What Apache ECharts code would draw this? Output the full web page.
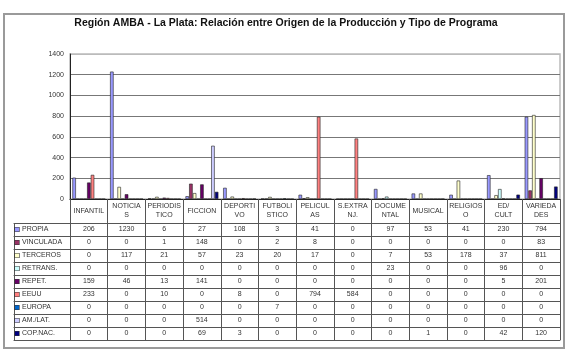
<!DOCTYPE html>
<html>
<head>
<meta charset="utf-8">
<script src="https://cdn.jsdelivr.net/npm/echarts@6/dist/echarts.min.js"></script>
<style>
  html, body { margin: 0; padding: 0; background: #fff; }
  #frame { position: absolute; left: 3px; top: 13px; width: 558px; height: 332px; border: 2px solid #9a9a9a; }
  #chart { position: absolute; left: 0; top: 0; width: 572px; height: 351px; }
</style>
</head>
<body>
<div id="frame"></div>
<div id="chart"></div>
<script>
// categorias (encabezado de la tabla, ya cortadas como en el original)
const categories = ['INFANTIL', 'NOTICIA\nS', 'PERIODIS\nTICO', 'FICCION', 'DEPORTI\nVO', 'FUTBOLI\nSTICO',
  'PELICUL\nAS', 'S.EXTRA\nNJ.', 'DOCUME\nNTAL', 'MUSICAL', 'RELIGIOS\nO', 'ED/\nCULT', 'VARIEDA\nDES'];

const seriesNames = ['PROPIA', 'VINCULADA', 'TERCEROS', 'RETRANS.', 'REPET.', 'EEUU', 'EUROPA', 'AM./LAT.', 'COP.NAC.'];
const colors = ['#9999FF', '#993366', '#FFFFCC', '#CCFFFF', '#660066', '#FF8080', '#0066CC', '#CCCCFF', '#000080'];

const propia    = [206, 1230, 6, 27, 108, 3, 41, 0, 97, 53, 41, 230, 794];
const vinculada = [0, 0, 1, 148, 0, 2, 8, 0, 0, 0, 0, 0, 83];
const terceros  = [0, 117, 21, 57, 23, 20, 17, 0, 7, 53, 178, 37, 811];
const retrans   = [0, 0, 0, 0, 0, 0, 0, 0, 23, 0, 0, 96, 0];
const repet     = [159, 46, 13, 141, 0, 0, 0, 0, 0, 0, 0, 5, 201];
const eeuu      = [233, 0, 10, 0, 8, 0, 794, 584, 0, 0, 0, 0, 0];
const europa    = [0, 0, 0, 0, 0, 7, 0, 0, 0, 0, 0, 0, 0];
const amlat     = [0, 0, 0, 514, 0, 0, 0, 0, 0, 0, 0, 0, 0];
const copnac    = [0, 0, 0, 69, 3, 0, 0, 0, 0, 1, 0, 42, 120];

const rows = [propia, vinculada, terceros, retrans, repet, eeuu, europa, amlat, copnac];

const yMax = 1400;
const yStep = 200;

const font = 'Arial, "Liberation Sans", sans-serif';
const HEADER = 24; // alto fila encabezado
const ROW = 13;    // alto de cada fila de la tabla
const lineCol = '#555';

let myChart = echarts.init(document.getElementById('chart'), null, { renderer: 'canvas' });

// eje principal + una fila de la tabla por serie
let xAxes = [{
  type: 'category', gridIndex: 0, position: 'bottom', data: categories,
  axisLine: { lineStyle: { color: '#222' } },
  axisTick: { show: true, interval: 0, length: HEADER, lineStyle: { color: lineCol } },
  axisLabel: { interval: 0, margin: 12, verticalAlign: 'middle', fontSize: 7, lineHeight: 9, color: '#333', fontFamily: font },
}];
rows.forEach((vals, i) => {
  xAxes.push({
    type: 'category', gridIndex: 0, position: 'bottom', offset: HEADER + i * ROW, data: categories,
    axisLine: { show: true, lineStyle: { color: lineCol } },
    axisTick: { show: true, interval: 0, length: ROW, lineStyle: { color: lineCol } },
    axisLabel: { interval: 0, margin: 6.5, verticalAlign: 'middle', fontSize: 7, color: '#333', fontFamily: font,
      formatter: (v, idx) => String(vals[idx]) },
  });
});
// linea inferior de la tabla
xAxes.push({
  type: 'category', gridIndex: 0, position: 'bottom', offset: HEADER + rows.length * ROW, data: categories,
  axisLine: { show: true, lineStyle: { color: lineCol } }, axisTick: { show: false }, axisLabel: { show: false },
});

// columna izquierda con las claves de la leyenda
xAxes.push({ type: 'category', gridIndex: 1, data: [''], show: false });
seriesNames.forEach((name, i) => {
  xAxes.push({
    type: 'category', gridIndex: 1, position: 'bottom', offset: HEADER + i * ROW, data: [''],
    axisLine: { show: true, lineStyle: { color: lineCol } },
    axisTick: { show: true, length: ROW, lineStyle: { color: lineCol } },
    axisLabel: {
      margin: 6.5, verticalAlign: 'middle', align: 'center', width: 54, fontSize: 7, color: '#333', fontFamily: font,
      formatter: () => '{k|}{n|' + name + '}',
      rich: {
        k: { width: 4, height: 4, align: 'left', backgroundColor: colors[i], borderColor: '#333', borderWidth: 0.6 },
        n: { align: 'left', padding: [0, 0, 0, 3], fontSize: 7, color: '#333', fontFamily: font },
      },
    },
  });
});
xAxes.push({
  type: 'category', gridIndex: 1, position: 'bottom', offset: HEADER + seriesNames.length * ROW, data: [''],
  axisLine: { show: true, lineStyle: { color: lineCol } }, axisTick: { show: false }, axisLabel: { show: false },
});

let option = {
  animation: false,
  backgroundColor: 'transparent',
  title: {
    text: 'Región AMBA - La Plata: Relación entre Origen de la Producción y Tipo de Programa',
    left: 'center',
    top: 13,
    textStyle: { fontSize: 10.5, fontWeight: 'bold', color: '#111', fontFamily: font },
  },
  grid: [
    { left: 70, right: 12, top: 54, height: 145, show: true, borderColor: '#bbb', borderWidth: 1.5 },
    { left: 14, width: 56, top: 54, height: 145 },
  ],
  xAxis: xAxes,
  yAxis: [
    {
      type: 'value', gridIndex: 0, min: 0, max: yMax, interval: yStep,
      axisLine: { show: true, lineStyle: { color: '#222' } },
      axisTick: { show: false },
      axisLabel: { fontSize: 7, color: '#333', margin: 6, fontFamily: font, formatter: v => String(v) },
      splitLine: { lineStyle: { color: ['#777', '#777', '#777', '#777', '#777', '#777', '#777', '#bbb'], width: 1 } },
    },
    { type: 'value', gridIndex: 1, show: false },
  ],
  series: seriesNames.map((name, i) => ({
    name: name,
    type: 'bar',
    xAxisIndex: 0,
    yAxisIndex: 0,
    data: rows[i],
    barWidth: 3.5,
    barGap: '5%',
    itemStyle: { color: colors[i], borderColor: '#222', borderWidth: 0.6 },
  })),
};
myChart.setOption(option);
</script>
</body>
</html>
